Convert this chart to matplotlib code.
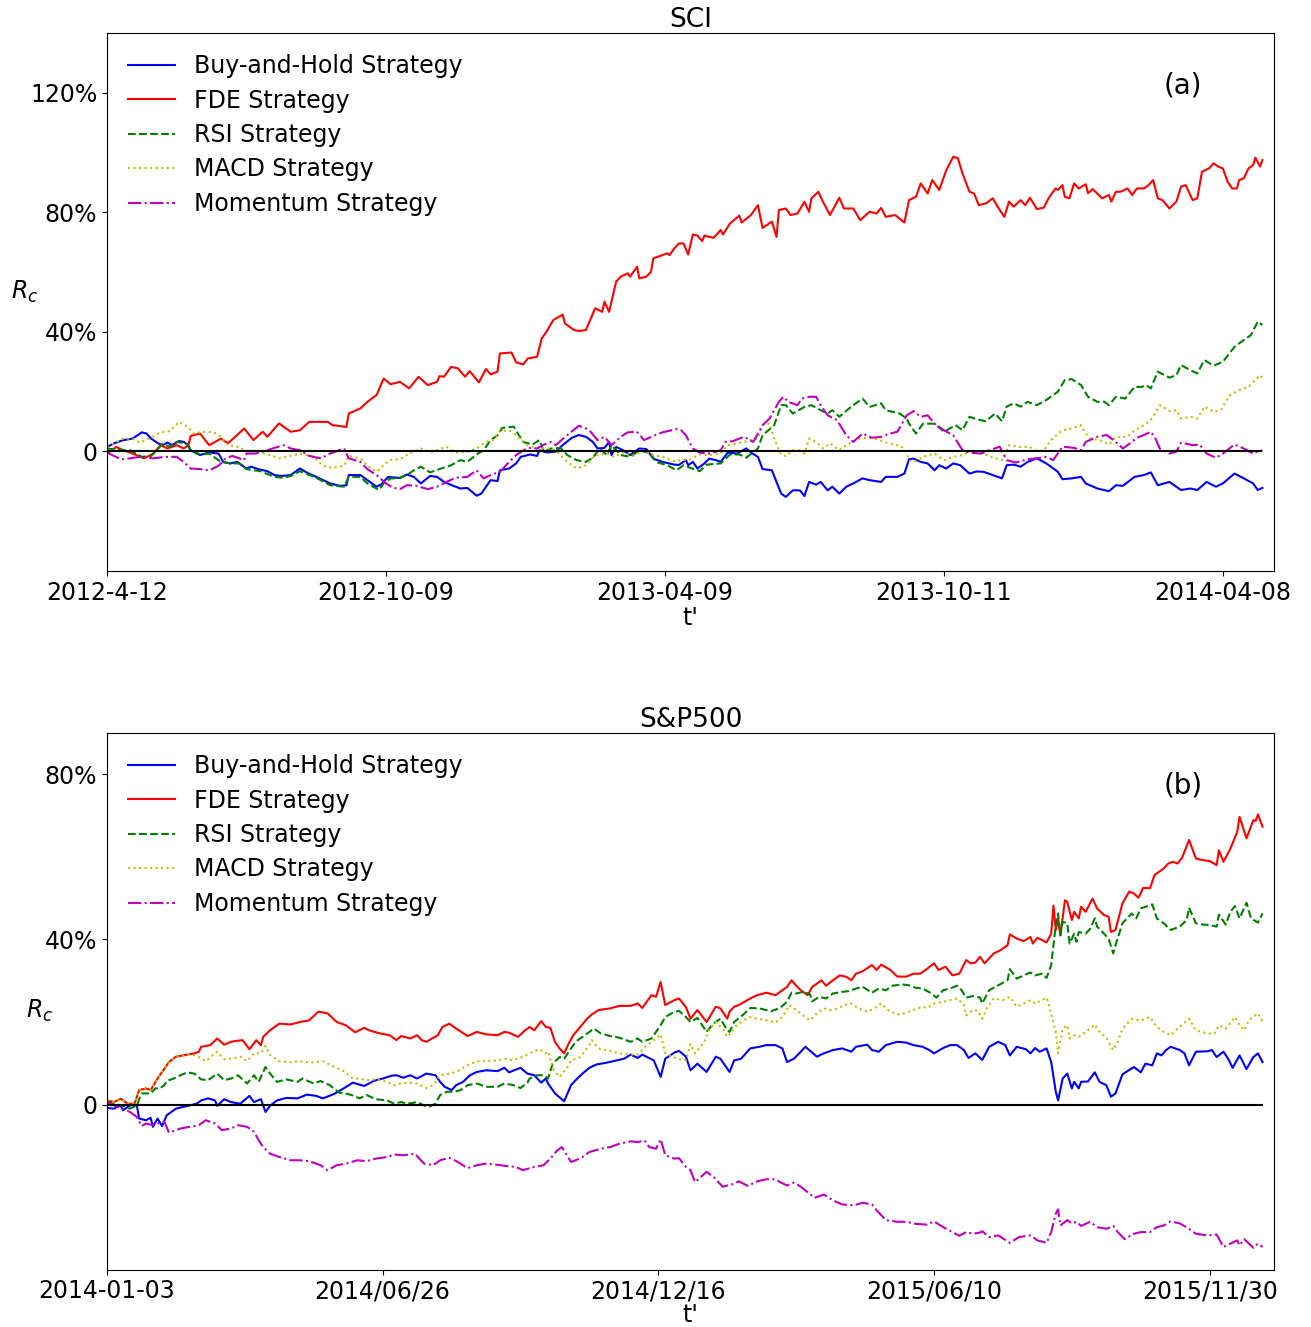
import numpy as np
import matplotlib
matplotlib.use("Agg")
import matplotlib.pyplot as plt

# ---------------- Panel (a): SCI  (trading-day index, cumulative return %) ----------------
sci_fde = [(0,-0.7),(2,0.4),(4,1.5),(7,0.4),(11,-0.7),(16,-2.3),(20,-0.7),(23,2.1),(26,1.0),(30,2.1),(33,1.0),(35,2.1),(36,5.2),(40,6.0),(44,2.1),(49,4.3),(52,2.7),(56,5.5),(59,7.7),(63,3.8),(67,6.6),(69,4.9),(74,9.4),(79,6.6),(83,7.1),(87,9.9),(95,9.9),(97,8.8),(103,8.2),(104,12.7),(109,14.4),(112,16.6),(116,18.9),(119,24.4),(122,22.5),(126,23.3),(130,21.1),(134,25.0),(138,22.2),(142,23.3),(143,25.2),(145,25.0),(148,28.3),(151,27.8),(154,25.0),(156,26.9),(160,23.1),(163,27.6),(165,25.8),(168,26.7),(169,32.8),(174,33.1),(176,29.8),(179,29.1),(181,31.1),(185,31.7),(187,37.8),(189,40.0),(192,44.0),(196,45.8),(197,42.8),(201,40.6),(203,40.3),(206,40.6),(210,47.9),(213,46.7),(214,50.1),(216,46.7),(219,56.8),(221,58.5),(224,59.6),(225,58.5),(228,61.8),(229,57.9),(232,58.5),(234,60.1),(235,64.6),(241,66.3),(242,65.7),(244,67.9),(246,69.6),(248,69.6),(250,65.9),(252,72.6),(254,72.2),(256,70.4),(257,72.2),(261,71.5),(264,74.1),(265,72.6),(268,76.3),(272,78.9),(273,76.6),(277,79.1),(280,82.4),(282,74.8),(286,76.9),(288,71.8),(289,80.8),(292,81.3),(294,79.1),(297,79.6),(300,83.5),(302,80.2),(303,84.7),(306,86.9),(308,83.5),(311,79.1),(315,84.9),(317,81.3),(321,81.3),(324,77.4),(328,80.2),(331,79.6),(333,81.5),(335,78.5),(339,79.1),(343,76.6),(345,84.1),(348,85.2),(350,89.7),(353,86.3),(355,90.8),(358,87.5),(361,94.1),(364,98.6),(366,98.1),(368,93.0),(371,86.9),(373,86.3),(375,82.4),(378,83.0),(381,84.7),(384,80.8),(386,78.5),(388,83.6),(390,81.9),(393,84.1),(395,82.4),(397,84.9),(400,81.1),(403,81.6),(405,84.7),(408,88.0),(409,87.5),(411,89.1),(412,85.2),(414,84.7),(416,89.7),(418,88.0),(421,89.4),(422,86.4),(424,87.8),(428,84.7),(431,85.8),(432,83.6),(434,86.9),(436,86.9),(439,88.0),(441,85.8),(443,88.0),(446,88.0),(448,89.1),(450,90.8),(452,84.7),(454,84.1),(457,81.3),(460,83.6),(462,88.6),(464,89.1),(467,84.1),(469,84.7),(471,93.6),(474,94.7),(476,96.4),(478,95.3),(480,94.7),(482,90.3),(484,88.0),(486,88.0),(487,90.8),(489,91.4),(491,94.7),(493,95.8),(494,98.3),(496,95.3),(497,97.5)]

sci_bh = [(0,1.5),(3,2.7),(7,3.8),(11,4.3),(15,6.4),(17,6.0),(19,4.3),(22,2.7),(24,2.1),(26,3.0),(28,2.1),(31,3.5),(33,3.2),(35,2.1),(36,0.4),(40,-1.2),(44,-0.3),(48,-0.7),(50,-3.5),(53,-4.0),(56,-3.5),(60,-5.7),(62,-5.1),(65,-5.9),(69,-6.6),(72,-7.9),(75,-8.2),(79,-7.9),(83,-5.7),(86,-7.1),(90,-8.5),(96,-10.7),(100,-11.5),(103,-11.3),(104,-7.9),(109,-7.9),(112,-9.6),(116,-11.8),(118,-11.0),(121,-8.5),(126,-8.9),(129,-7.7),(132,-8.5),(135,-10.7),(139,-8.2),(142,-8.5),(145,-10.2),(149,-11.5),(152,-12.4),(155,-12.2),(157,-13.5),(159,-14.8),(161,-14.1),(165,-9.6),(168,-9.9),(169,-6.3),(173,-5.7),(176,-4.0),(178,-1.8),(182,-1.0),(185,-1.5),(186,0.4),(189,-0.3),(193,-0.1),(196,2.1),(200,4.6),(203,5.5),(206,4.9),(209,3.2),(211,1.0),(214,1.2),(216,3.2),(217,-1.2),(219,1.5),(222,0.4),(225,-1.2),(229,1.0),(232,0.8),(235,-2.4),(239,-3.5),(244,-4.4),(246,-4.5),(249,-2.9),(250,-4.6),(252,-3.5),(254,-5.7),(257,-4.0),(259,-2.4),(262,-2.9),(264,-3.5),(267,-0.4),(271,-0.7),(275,1.0),(277,-0.4),(280,-1.8),(282,-5.9),(286,-6.3),(288,-10.2),(290,-14.1),(292,-15.2),(295,-13.0),(298,-13.0),(300,-14.9),(302,-10.2),(305,-11.1),(307,-10.2),(310,-13.0),(312,-11.8),(315,-14.1),(318,-11.8),(321,-10.7),(325,-9.0),(328,-9.6),(333,-10.2),(335,-8.5),(340,-8.5),(343,-7.4),(345,-2.6),(347,-2.4),(350,-3.5),(353,-4.0),(356,-6.3),(358,-4.6),(361,-5.7),(364,-4.0),(367,-4.6),(371,-7.4),(374,-6.7),(377,-6.8),(381,-7.9),(385,-9.0),(387,-4.6),(390,-4.4),(393,-5.1),(396,-3.5),(400,-2.3),(404,-4.0),(409,-6.8),(411,-9.3),(415,-9.0),(419,-8.5),(421,-10.7),(426,-12.4),(431,-13.3),(434,-11.3),(437,-11.5),(442,-8.5),(446,-7.9),(449,-7.0),(452,-11.3),(457,-10.2),(462,-12.9),(466,-12.4),(469,-12.9),(473,-10.2),(477,-11.8),(480,-10.7),(485,-7.4),(489,-9.0),(493,-10.7),(495,-12.9),(497,-12.2)]

sci_rsi = [(0,1.0),(6,0.4),(10,0.4),(15,-1.8),(19,-1.5),(22,1.0),(24,2.5),(27,1.6),(30,3.2),(34,2.7),(36,0.4),(40,-1.0),(44,-0.7),(49,-3.5),(53,-4.0),(57,-4.0),(60,-5.9),(66,-6.6),(72,-8.5),(76,-8.8),(79,-8.2),(83,-6.6),(90,-8.8),(96,-11.3),(102,-11.8),(104,-8.5),(109,-8.5),(112,-10.7),(117,-12.9),(119,-10.7),(122,-9.0),(125,-9.0),(129,-7.9),(132,-6.3),(135,-5.1),(139,-7.0),(143,-5.9),(148,-4.6),(152,-2.9),(155,-3.5),(159,-1.0),(162,0.4),(165,3.8),(168,5.4),(170,7.9),(175,8.3),(177,5.7),(179,3.2),(183,2.3),(186,3.8),(188,-0.1),(191,1.0),(195,1.2),(198,-1.2),(202,-2.9),(206,-3.5),(209,-2.1),(212,1.0),(215,-1.2),(217,2.1),(221,-1.2),(225,-1.8),(229,0.4),(234,-0.7),(236,-3.5),(241,-4.6),(245,-6.3),(248,-4.6),(251,-5.5),(255,-6.6),(258,-4.4),(264,-4.0),(268,-1.0),(272,-1.0),(275,-2.1),(280,1.0),(282,5.4),(287,8.8),(290,15.5),(292,15.5),(295,12.7),(300,14.9),(303,15.5),(307,13.8),(310,12.7),(312,13.8),(315,11.6),(320,14.9),(325,17.7),(328,14.9),(333,16.1),(335,13.8),(341,12.7),(344,11.0),(345,9.3),(348,6.0),(351,9.3),(356,9.3),(360,6.6),(365,8.8),(368,7.1),(371,11.6),(374,10.8),(378,10.1),(382,12.7),(385,10.1),(387,15.0),(390,16.1),(393,15.0),(396,16.6),(400,15.5),(404,17.2),(409,20.0),(412,23.9),(415,24.2),(419,22.2),(422,18.3),(426,16.6),(429,16.6),(431,15.5),(434,18.3),(438,17.7),(442,21.6),(445,21.6),(447,22.2),(449,21.1),(452,26.7),(457,24.7),(460,25.5),(462,28.9),(466,27.2),(469,26.1),(472,30.6),(476,28.7),(480,30.0),(485,35.0),(489,37.3),(492,38.9),(495,43.4),(497,42.3)]

sci_macd = [(0,1.5),(3,2.7),(7,4.3),(11,4.3),(14,3.0),(19,4.6),(23,6.4),(27,6.8),(31,9.9),(35,8.2),(37,6.0),(41,6.6),(46,6.4),(49,4.9),(52,2.1),(56,1.6),(60,0.1),(66,-0.3),(70,-1.2),(74,-2.3),(79,-1.5),(83,-0.7),(89,-1.8),(93,-4.8),(97,-5.5),(102,-4.8),(104,-1.5),(109,-2.3),(112,-4.8),(116,-6.8),(119,-4.6),(122,-2.8),(126,-2.6),(130,-0.7),(135,1.0),(139,-0.3),(143,0.8),(146,1.6),(150,-0.3),(155,-0.1),(159,1.0),(163,3.2),(166,3.8),(169,6.8),(173,7.1),(176,5.5),(181,2.1),(185,1.0),(189,1.2),(193,0.4),(198,-3.5),(202,-5.7),(206,-4.6),(210,-1.2),(215,-0.7),(218,-1.8),(222,-0.3),(226,-1.5),(231,0.4),(234,-1.2),(239,-1.8),(244,-3.2),(248,-2.9),(251,-2.6),(255,-1.0),(259,-1.2),(264,-0.7),(267,2.1),(271,2.7),(275,3.4),(280,4.3),(282,8.8),(285,9.4),(287,4.3),(290,-1.2),(292,-1.5),(295,0.4),(298,0.4),(300,-0.7),(302,4.3),(305,3.2),(308,1.0),(311,2.7),(315,0.4),(318,2.1),(323,4.3),(327,4.6),(331,4.1),(335,3.0),(340,2.1),(343,1.0),(345,-2.9),(347,-3.5),(351,-1.8),(356,-0.7),(360,-2.9),(364,-1.8),(368,-1.2),(372,0.4),(376,-0.3),(380,-1.8),(385,-2.9),(388,2.1),(393,1.5),(397,1.5),(400,0.1),(403,0.4),(406,3.8),(411,7.1),(414,7.5),(419,8.8),(421,6.0),(423,4.3),(427,3.8),(431,2.3),(434,4.9),(439,4.9),(442,7.1),(446,8.8),(449,10.5),(453,15.5),(457,13.5),(460,13.8),(462,11.0),(466,11.6),(469,11.0),(472,15.0),(476,13.3),(479,13.8),(483,18.8),(487,20.5),(491,21.6),(494,23.9),(496,25.5),(497,24.7)]

sci_mom = [(0,-0.3),(3,-1.5),(6,-2.6),(10,-2.3),(14,-1.8),(20,-2.3),(25,-1.8),(30,-1.8),(33,-3.5),(36,-5.7),(40,-5.9),(44,-6.3),(48,-4.8),(51,-2.3),(54,-1.5),(59,-2.9),(60,-0.7),(64,-0.7),(69,0.4),(72,1.2),(76,2.1),(79,1.0),(83,0.4),(87,-1.5),(92,-2.3),(96,-0.7),(102,1.0),(104,-2.3),(109,-3.5),(112,-5.9),(116,-7.9),(120,-10.7),(123,-12.1),(126,-12.6),(129,-11.3),(133,-11.5),(138,-12.6),(142,-11.8),(146,-10.2),(150,-8.8),(155,-8.5),(159,-6.3),(162,-9.0),(165,-7.9),(169,-6.8),(173,-3.5),(176,-1.2),(181,1.2),(185,1.0),(188,2.3),(191,3.2),(193,2.1),(198,5.5),(203,8.6),(206,7.7),(208,6.6),(211,3.8),(214,4.9),(217,2.1),(221,4.9),(224,6.4),(228,6.6),(231,3.8),(235,5.2),(239,6.4),(245,7.5),(247,7.1),(249,5.4),(252,1.0),(255,-0.4),(259,-0.7),(264,0.4),(266,3.2),(269,3.4),(274,4.9),(278,3.2),(282,8.8),(285,11.0),(289,16.6),(291,18.3),(293,16.6),(297,15.5),(299,17.7),(302,18.3),(305,18.3),(307,15.5),(310,12.1),(314,10.5),(318,5.4),(321,3.2),(325,6.0),(329,4.6),(333,4.9),(337,6.0),(340,6.6),(344,12.1),(347,13.5),(350,11.6),(353,12.1),(356,9.3),(360,7.1),(364,5.4),(368,0.4),(371,-0.4),(376,-0.7),(380,0.5),(384,1.6),(387,-2.9),(391,-3.7),(396,-2.6),(400,-2.3),(404,-1.8),(407,-2.9),(411,1.6),(416,1.2),(419,0.4),(421,3.2),(426,4.9),(430,5.5),(433,3.8),(437,1.0),(440,2.7),(443,4.6),(446,5.5),(449,6.6),(451,4.3),(453,0.8),(457,-0.7),(460,-0.1),(462,3.0),(467,2.1),(470,2.3),(473,-0.7),(477,-2.1),(480,-0.7),(485,2.3),(489,1.0),(493,-0.7),(496,0.4),(497,0.1)]

sci_xticks = [0, 120, 240, 360, 480]
sci_xticklabels = ["2012-4-12", "2012-10-09", "2013-04-09", "2013-10-11", "2014-04-08"]
sci_yticks = [0, 40, 80, 120]
sci_yticklabels = ["0", "40%", "80%", "120%"]

# ---------------- Panel (b): S&P500 ----------------
sp_fde = [(0,1.0),(3,0.6),(6,1.4),(9,0.2),(12,0.2),(14,3.5),(17,3.9),(19,3.5),(22,6.3),(25,8.7),(27,10.3),(30,11.6),(35,12.1),(38,12.4),(40,12.8),(41,14.0),(45,14.4),(48,16.0),(51,14.5),(54,15.2),(56,15.4),(59,15.6),(62,13.4),(65,15.6),(67,14.4),(68,16.4),(71,18.0),(75,19.6),(80,19.4),(84,20.0),(88,20.4),(92,22.5),(96,22.1),(100,20.0),(104,19.2),(108,17.5),(112,18.6),(114,18.0),(119,17.2),(123,16.8),(126,15.6),(128,16.6),(132,16.0),(135,16.8),(137,15.6),(139,15.2),(144,16.8),(146,18.8),(149,19.6),(152,18.4),(157,16.6),(161,17.6),(165,17.0),(170,16.8),(173,17.6),(175,17.4),(179,16.4),(182,18.0),(184,18.8),(186,18.0),(189,20.2),(191,18.8),(193,18.6),(195,15.2),(197,13.6),(199,12.4),(201,14.8),(203,16.8),(206,18.8),(209,20.8),(211,21.8),(214,22.9),(219,23.3),(223,23.9),(228,23.9),(231,24.5),(233,23.4),(237,26.5),(239,26.1),(241,29.7),(243,24.1),(247,25.3),(249,25.7),(252,23.6),(254,20.8),(257,22.9),(261,20.0),(265,23.7),(267,23.3),(270,20.8),(271,22.5),(273,23.7),(275,24.1),(280,25.7),(283,26.5),(287,27.1),(291,26.5),(293,27.3),(296,28.5),(298,30.1),(300,28.8),(302,27.7),(305,26.5),(307,28.5),(311,30.1),(313,28.8),(316,30.1),(319,31.3),(322,30.9),(324,30.1),(326,31.7),(329,32.3),(333,33.8),(335,32.6),(337,33.9),(341,32.6),(344,31.0),(348,31.0),(351,31.7),(354,31.7),(357,32.9),(360,34.2),(362,32.6),(365,33.4),(368,31.3),(371,31.7),(374,35.0),(376,34.2),(378,34.4),(380,35.8),(382,34.2),(386,36.6),(389,37.4),(392,38.6),(393,41.2),(396,40.2),(399,39.6),(402,40.6),(403,39.0),(405,40.4),(409,39.3),(411,41.4),(412,48.2),(413,42.3),(414,45.1),(415,41.0),(417,49.5),(418,49.1),(420,44.7),(421,46.7),(423,45.1),(424,47.9),(426,46.7),(429,49.9),(431,47.5),(434,45.9),(436,45.5),(437,41.8),(439,42.3),(442,48.7),(445,51.6),(447,51.1),(449,50.1),(451,52.5),(454,52.4),(456,55.6),(458,56.4),(460,57.2),(462,58.4),(464,58.8),(466,58.4),(468,59.8),(471,64.1),(474,59.6),(477,59.2),(480,59.0),(483,58.0),(484,61.6),(486,58.8),(489,62.0),(492,66.1),(493,69.7),(496,64.5),(499,68.9),(500,68.7),(501,70.3),(503,67.3)]

sp_bh = [(0,-0.8),(3,-1.0),(6,-0.2),(7,-1.4),(10,-0.2),(13,-0.2),(14,-3.4),(17,-3.8),(19,-3.2),(20,-5.4),(22,-3.4),(24,-5.2),(26,-2.6),(30,-1.0),(33,-0.6),(36,-0.2),(39,0.2),(41,1.0),(44,1.5),(47,1.0),(48,-0.3),(51,1.3),(54,0.6),(58,0.2),(62,2.1),(64,0.6),(67,1.3),(69,-1.8),(71,-0.3),(74,1.0),(78,1.6),(83,1.5),(87,2.4),(91,2.1),(94,1.5),(99,2.6),(103,3.9),(107,5.3),(112,4.5),(116,5.7),(120,6.3),(124,7.0),(126,7.1),(129,6.5),(132,7.1),(135,6.3),(139,7.5),(143,7.1),(145,5.5),(147,4.3),(150,3.5),(152,4.7),(155,5.5),(158,7.1),(161,7.9),(165,8.3),(170,8.1),(173,8.9),(175,7.8),(180,8.9),(183,7.5),(186,7.1),(189,5.3),(191,6.3),(192,5.1),(195,2.7),(199,0.8),(202,4.7),(204,5.9),(207,7.5),(210,8.9),(213,9.7),(218,10.2),(222,10.7),(225,11.1),(228,12.1),(231,11.3),(233,12.1),(238,10.7),(241,6.7),(243,11.1),(247,12.6),(249,13.0),(252,11.6),(254,8.3),(257,9.9),(261,7.9),(265,11.6),(267,11.1),(270,8.7),(271,7.9),(273,10.7),(276,11.1),(280,13.6),(284,14.0),(287,14.4),(291,14.4),(294,13.6),(296,10.3),(299,11.1),(302,12.8),(304,14.0),(309,11.6),(312,12.4),(316,13.2),(320,13.6),(324,12.8),(326,14.0),(331,14.5),(333,13.2),(336,12.8),(339,14.4),(344,15.2),(348,15.0),(351,14.4),(355,14.0),(358,13.2),(360,12.4),(364,13.7),(367,14.4),(370,14.4),(373,13.2),(375,11.3),(378,12.4),(381,10.8),(384,14.0),(388,15.2),(391,14.4),(393,11.9),(396,14.0),(400,13.4),(402,12.4),(404,13.7),(406,12.8),(409,13.6),(411,10.3),(413,3.1),(414,1.0),(416,6.3),(418,7.5),(420,3.9),(421,5.5),(423,3.9),(424,5.5),(427,5.6),(430,7.8),(432,5.5),(435,4.7),(437,1.9),(439,2.7),(442,7.3),(447,9.1),(450,7.8),(452,9.9),(455,9.5),(457,12.4),(459,11.9),(461,13.2),(463,14.0),(467,13.2),(469,12.4),(471,9.5),(474,12.8),(479,12.9),(481,13.2),(483,11.5),(486,12.8),(488,11.1),(490,8.9),(493,11.9),(496,8.6),(499,11.5),(501,12.4),(503,10.3)]

sp_rsi = [(0,0.6),(3,0.2),(7,-0.3),(10,-1.0),(13,-0.2),(15,2.7),(19,2.7),(21,3.9),(23,3.9),(25,4.7),(26,5.7),(29,6.3),(32,7.1),(35,7.8),(38,7.5),(41,6.1),(44,5.9),(48,7.5),(51,5.9),(54,6.3),(57,7.1),(61,5.1),(64,7.1),(66,5.5),(69,9.1),(71,7.5),(74,5.5),(78,6.1),(83,5.5),(85,6.3),(90,5.1),(93,5.7),(97,4.7),(101,2.9),(106,2.4),(110,1.5),(113,2.3),(117,1.3),(122,1.0),(125,0.2),(128,0.6),(131,0.2),(135,0.6),(138,-0.2),(140,-0.6),(143,0.2),(145,2.3),(148,3.1),(151,3.1),(154,3.5),(157,4.7),(161,5.1),(165,4.3),(170,4.3),(173,5.1),(177,4.7),(180,4.0),(183,5.3),(184,6.3),(187,7.1),(190,7.1),(192,6.3),(194,9.9),(197,11.5),(199,11.1),(202,13.6),(204,15.2),(207,16.4),(210,17.6),(212,18.4),(215,17.2),(219,16.6),(223,16.2),(228,15.2),(231,16.0),(233,15.2),(237,16.0),(241,19.2),(243,21.2),(247,22.5),(249,22.7),(252,21.2),(254,20.0),(257,21.0),(261,17.6),(264,19.6),(267,20.8),(270,18.0),(271,17.6),(273,20.0),(277,21.8),(280,23.4),(284,23.3),(289,22.6),(293,23.4),(296,24.9),(298,27.1),(300,26.9),(303,27.3),(306,26.7),(307,25.0),(310,26.1),(313,25.7),(316,26.9),(320,27.3),(323,27.5),(326,28.1),(329,28.5),(333,27.1),(336,28.1),(339,27.7),(342,28.8),(346,29.1),(349,28.9),(352,28.3),(355,28.1),(359,26.9),(361,25.9),(364,27.7),(367,28.1),(370,28.8),(372,27.7),(374,25.9),(377,26.3),(380,25.9),(381,24.5),(384,27.7),(388,28.9),(392,30.1),(393,32.8),(396,30.5),(399,31.3),(402,32.0),(404,31.3),(407,31.7),(409,30.7),(411,33.8),(413,43.5),(414,46.3),(415,41.0),(416,44.3),(418,43.9),(419,39.0),(421,41.4),(422,39.4),(423,41.8),(426,41.4),(428,42.6),(430,45.1),(431,43.1),(434,41.4),(436,40.2),(438,36.6),(439,38.6),(442,43.9),(446,46.3),(448,45.1),(450,47.5),(452,47.9),(455,48.5),(457,45.1),(460,43.9),(463,42.3),(467,43.1),(470,44.7),(471,47.7),(474,43.9),(477,43.6),(480,43.5),(483,43.1),(484,46.0),(487,43.6),(489,46.7),(491,48.1),(493,45.1),(496,48.9),(498,45.1),(501,44.1),(503,46.3)]

sp_macd = [(0,1.0),(3,0.6),(6,1.3),(9,0.2),(12,0.2),(14,3.5),(17,4.0),(19,3.5),(22,6.3),(25,8.7),(27,10.3),(30,11.6),(35,12.1),(38,12.0),(41,11.2),(43,10.5),(48,12.8),(51,11.0),(55,11.2),(58,11.6),(61,10.5),(64,12.4),(67,12.4),(69,14.2),(71,12.0),(75,10.5),(80,10.3),(84,10.5),(88,10.2),(91,10.3),(94,10.5),(99,9.1),(103,8.1),(107,6.3),(110,6.3),(113,5.9),(117,6.1),(122,5.5),(125,4.7),(128,5.1),(132,5.3),(135,5.1),(139,4.0),(142,4.7),(145,7.1),(149,7.5),(152,7.9),(157,9.5),(161,10.5),(165,10.5),(170,10.7),(173,11.1),(177,10.7),(179,11.3),(181,11.5),(184,12.4),(188,13.4),(191,12.4),(192,12.9),(194,8.7),(197,6.7),(200,8.7),(202,10.7),(206,11.5),(210,14.4),(211,15.6),(214,13.6),(219,13.0),(223,12.4),(228,12.1),(231,12.1),(235,14.4),(239,16.0),(241,17.0),(243,12.4),(246,11.6),(249,11.0),(252,10.7),(254,14.7),(256,12.4),(260,15.2),(262,18.0),(265,20.0),(268,18.4),(270,16.4),(272,17.6),(274,19.2),(277,20.4),(280,21.2),(284,20.7),(289,20.2),(291,19.9),(294,21.2),(297,24.1),(300,22.9),(303,21.6),(306,20.4),(309,22.1),(312,23.3),(315,22.9),(318,23.3),(321,24.1),(324,24.5),(327,23.3),(331,22.5),(334,23.3),(337,24.5),(340,22.9),(344,21.8),(347,22.1),(351,22.9),(355,23.7),(357,23.4),(360,24.5),(364,24.9),(367,25.3),(370,25.7),(373,24.2),(374,21.6),(377,22.9),(379,22.7),(381,20.8),(383,23.3),(386,25.7),(390,25.3),(393,26.1),(396,23.7),(399,24.5),(402,25.3),(404,24.5),(407,25.3),(409,25.9),(410,24.1),(413,17.6),(414,12.4),(416,18.4),(418,19.2),(419,16.0),(421,16.8),(423,16.4),(426,17.6),(430,19.4),(432,17.6),(435,16.2),(438,13.2),(440,15.2),(442,18.4),(446,20.7),(450,20.4),(454,21.2),(457,18.8),(460,17.6),(463,16.8),(466,18.4),(471,20.8),(474,18.0),(479,17.2),(482,17.2),(484,19.2),(487,18.4),(491,21.2),(493,19.2),(495,18.0),(497,20.4),(501,22.1),(503,20.0)]

sp_mom = [(0,0.6),(3,-0.2),(6,-0.8),(10,-1.8),(13,-3.0),(15,-5.2),(17,-4.6),(20,-5.0),(22,-4.6),(25,-4.2),(27,-6.8),(32,-5.8),(36,-5.4),(40,-5.0),(43,-3.8),(47,-4.6),(50,-6.2),(54,-5.8),(57,-5.0),(61,-5.4),(64,-6.6),(66,-8.6),(68,-10.3),(71,-11.9),(75,-12.7),(80,-13.5),(84,-13.5),(88,-13.7),(93,-14.7),(96,-15.9),(100,-14.7),(104,-14.3),(109,-13.5),(113,-13.7),(117,-13.1),(122,-12.7),(125,-12.1),(129,-12.3),(134,-11.9),(138,-14.3),(142,-14.7),(145,-13.5),(149,-12.9),(152,-13.7),(157,-15.4),(161,-14.7),(165,-14.3),(170,-14.6),(174,-14.9),(178,-15.1),(181,-15.9),(186,-15.1),(190,-14.7),(193,-13.1),(196,-11.1),(198,-10.3),(202,-13.9),(204,-13.5),(207,-12.7),(210,-11.5),(215,-10.7),(219,-10.3),(223,-9.5),(228,-8.9),(231,-9.1),(234,-8.7),(236,-10.3),(239,-10.7),(241,-8.4),(243,-12.3),(247,-13.1),(249,-13.0),(252,-15.1),(254,-15.9),(256,-18.8),(261,-16.3),(264,-17.5),(268,-19.9),(273,-19.2),(275,-18.6),(279,-19.7),(283,-18.6),(287,-18.1),(291,-18.1),(293,-18.8),(296,-19.6),(299,-18.9),(302,-19.9),(304,-20.8),(308,-22.6),(312,-21.8),(316,-23.2),(320,-24.2),(325,-24.4),(329,-23.8),(333,-24.2),(335,-25.6),(339,-28.0),(344,-28.4),(348,-28.4),(352,-28.9),(357,-29.1),(360,-28.3),(364,-29.7),(368,-30.9),(371,-31.8),(374,-30.9),(377,-31.3),(380,-31.0),(381,-30.7),(384,-32.1),(388,-31.7),(393,-33.5),(397,-32.1),(402,-31.7),(405,-32.9),(409,-33.5),(411,-30.9),(413,-26.4),(414,-25.4),(415,-29.3),(418,-28.0),(420,-28.8),(422,-28.4),(424,-29.4),(428,-28.4),(431,-29.7),(435,-30.1),(438,-29.4),(440,-30.9),(443,-32.6),(447,-31.3),(450,-30.9),(454,-30.9),(457,-29.7),(460,-29.3),(463,-28.3),(467,-28.8),(471,-30.1),(474,-31.3),(479,-31.7),(483,-31.5),(486,-34.5),(489,-33.7),(492,-32.9),(493,-34.1),(495,-32.6),(499,-34.7),(501,-33.7),(503,-34.5)]

sp_xticks = [0, 120, 240, 360, 480]
sp_xticklabels = ["2014-01-03", "2014/06/26", "2014/12/16", "2015/06/10", "2015/11/30"]
sp_yticks = [0, 40, 80]
sp_yticklabels = ["0", "40%", "80%"]

strategy_names = ["Buy-and-Hold Strategy", "FDE Strategy", "RSI Strategy",
                  "MACD Strategy", "Momentum Strategy"]

# ---------------- styling ----------------
styles = [dict(color="b", ls="-"), dict(color="r", ls="-"), dict(color="g", ls="--"),
          dict(color="y", ls=":"), dict(color="m", ls="-.")]
FS = 17
LW = 1.5

fig = plt.figure(figsize=(13.11, 13.27), dpi=100)
ax1 = fig.add_axes([0.0816, 0.5697, 0.8902, 0.4054])
ax2 = fig.add_axes([0.0816, 0.0432, 0.8902, 0.4044])


def draw(ax, series, title, tag, xt, xtl, yt, ytl, ylim, xmax, ylab_y, xpad):
    for s, name, st in zip(series, strategy_names, styles):
        arr = np.array(s, dtype=float)
        ax.plot(arr[:, 0], arr[:, 1], lw=LW, label=name, **st)
    last = max(np.array(s)[:, 0].max() for s in series)
    ax.hlines(0, 0, last, colors="k", lw=1.5)
    ax.set_xlim(0, xmax)
    ax.set_ylim(*ylim)
    ax.set_xticks(xt)
    ax.set_xticklabels(xtl, fontsize=FS)
    ax.set_yticks(yt)
    ax.set_yticklabels(ytl, fontsize=FS)
    ax.set_title(title, fontsize=19, pad=3)
    ax.set_xlabel("t'", fontsize=FS, labelpad=xpad)
    ax.set_ylabel("$R_c$", fontsize=FS, rotation=0, y=ylab_y)
    ax.legend(loc="upper left", frameon=False, fontsize=FS, labelspacing=0.44)
    ax.text(0.922, 0.903, tag, transform=ax.transAxes, fontsize=20,
            ha="center", va="center")


draw(ax1, [sci_bh, sci_fde, sci_rsi, sci_macd, sci_mom], "SCI", "(a)",
     sci_xticks, sci_xticklabels, sci_yticks, sci_yticklabels, (-40, 140), 502, 0.494, 1)
draw(ax2, [sp_bh, sp_fde, sp_rsi, sp_macd, sp_mom], "S&P500", "(b)",
     sp_xticks, sp_xticklabels, sp_yticks, sp_yticklabels, (-40, 90), 508, 0.457, -0.5)

fig.savefig("out.png", dpi=100)
